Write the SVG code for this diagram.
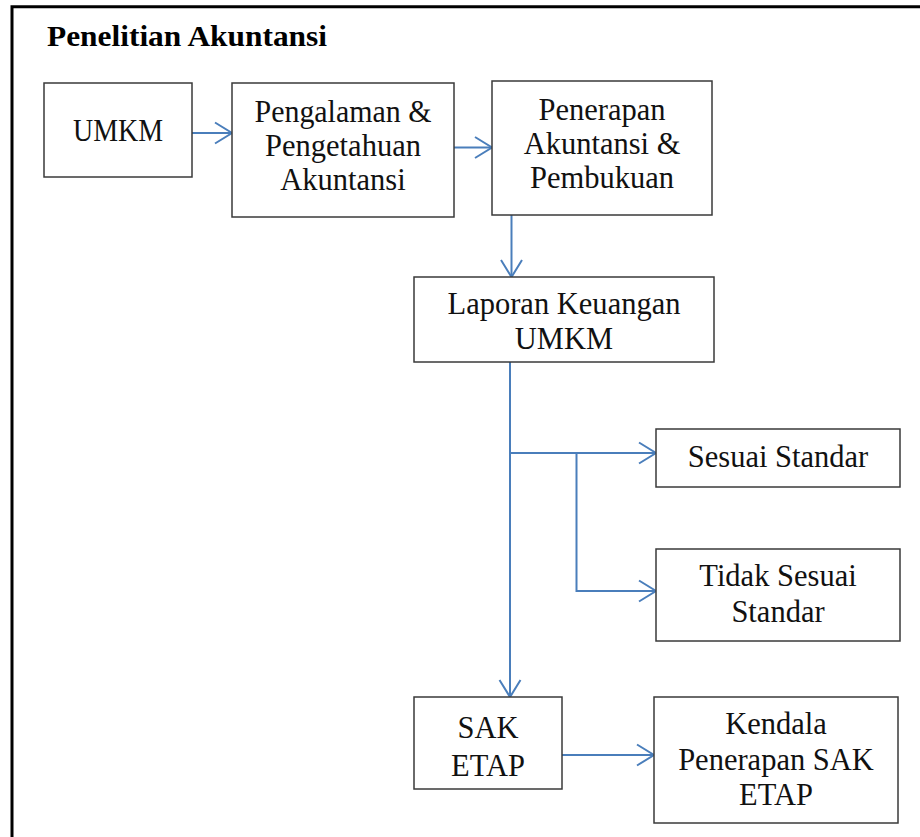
<svg xmlns="http://www.w3.org/2000/svg" width="920" height="837" viewBox="0 0 920 837">
  <defs>
    <marker id="arrow" markerUnits="userSpaceOnUse" markerWidth="22" markerHeight="26" refX="18" refY="12" orient="auto">
      <path d="M1,1.5 L18,12 L1,22.5" fill="none" stroke="#4a7ebb" stroke-width="2"/>
    </marker>
    <style>
      .frame { fill: none; stroke: #000; stroke-width: 3; }
      .box { fill: #fff; stroke: #3a3a3a; stroke-width: 1.5; }
      .lbl { font-family: "Liberation Serif", "Times New Roman", serif; font-size: 30.5px; fill: #111; text-anchor: middle; }
      .title { font-family: "Liberation Serif", "Times New Roman", serif; font-size: 30px; font-weight: bold; fill: #000; }
      .conn { fill: none; stroke: #4a7ebb; stroke-width: 2; }
    </style>
  </defs>
  <rect width="920" height="837" fill="#fff"/>

  <!-- outer frame, continues past the right and bottom edges -->
  <path class="frame" d="M12,845 V6.7 H930"/>

  <text class="title" x="47" y="46" textLength="280" lengthAdjust="spacingAndGlyphs">Penelitian Akuntansi</text>

  <g id="connectors">
    <path class="conn" d="M192,133 H232" marker-end="url(#arrow)"/>
    <path class="conn" d="M454,147.5 H492" marker-end="url(#arrow)"/>
    <path class="conn" d="M511.5,215 V277" marker-end="url(#arrow)"/>
    <path class="conn" d="M510,362 V697" marker-end="url(#arrow)"/>
    <path class="conn" d="M510,453 H656" marker-end="url(#arrow)"/>
    <path class="conn" d="M576.5,453 V591 H656" marker-end="url(#arrow)"/>
    <path class="conn" d="M562,755 H654" marker-end="url(#arrow)"/>
  </g>

  <g id="umkm">
    <rect class="box" x="44" y="83" width="148" height="94"/>
    <text class="lbl" x="118" y="140.5" textLength="90" lengthAdjust="spacingAndGlyphs">UMKM</text>
  </g>

  <g id="pengalaman">
    <rect class="box" x="232" y="83" width="222" height="134"/>
    <text class="lbl" x="343" y="122" textLength="177" lengthAdjust="spacingAndGlyphs">Pengalaman &amp;</text>
    <text class="lbl" x="343" y="156">Pengetahuan</text>
    <text class="lbl" x="343" y="190">Akuntansi</text>
  </g>

  <g id="penerapan">
    <rect class="box" x="492" y="81" width="220" height="134"/>
    <text class="lbl" x="602" y="120">Penerapan</text>
    <text class="lbl" x="602" y="154">Akuntansi &amp;</text>
    <text class="lbl" x="602" y="188">Pembukuan</text>
  </g>

  <g id="laporan">
    <rect class="box" x="414" y="277" width="300" height="85"/>
    <text class="lbl" x="564" y="314" textLength="233" lengthAdjust="spacingAndGlyphs">Laporan Keuangan</text>
    <text class="lbl" x="564" y="349">UMKM</text>
  </g>

  <g id="sesuai">
    <rect class="box" x="656" y="429" width="244" height="58"/>
    <text class="lbl" x="778" y="466.5">Sesuai Standar</text>
  </g>

  <g id="tidak-sesuai">
    <rect class="box" x="656" y="549" width="244" height="92"/>
    <text class="lbl" x="778" y="586">Tidak Sesuai</text>
    <text class="lbl" x="778" y="621.5">Standar</text>
  </g>

  <g id="sak-etap">
    <rect class="box" x="414" y="697" width="148" height="92"/>
    <text class="lbl" x="488" y="738">SAK</text>
    <text class="lbl" x="488" y="775.5">ETAP</text>
  </g>

  <g id="kendala">
    <rect class="box" x="654" y="697" width="244" height="126"/>
    <text class="lbl" x="776" y="734">Kendala</text>
    <text class="lbl" x="776" y="770">Penerapan SAK</text>
    <text class="lbl" x="776" y="805">ETAP</text>
  </g>
</svg>
